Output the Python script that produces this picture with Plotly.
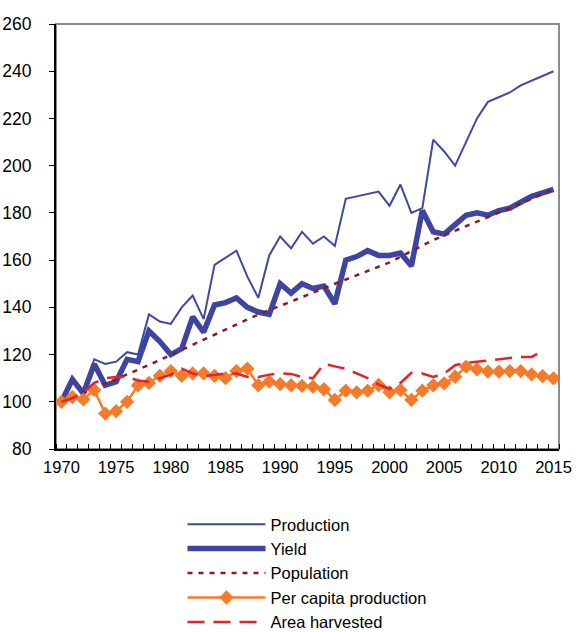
import plotly.graph_objects as go

years = list(range(1970, 2016))

production = [100, 109, 104, 118, 116, 117, 121, 120, 137, 134,
              133, 140, 145, 135, 158, 161, 164, 153, 144, 162,
              170, 165, 172, 167, 170, 166, 186, 187, 188, 189,
              183, 192, 180, 182, 211, 206, 200, 210, 220, 227,
              229, 231, 234, 236, 238, 240]

yield_ = [100, 109.5, 103.5, 116, 107, 108.5, 118, 117, 130, 125.5,
          120, 122.5, 136, 129.5, 141, 142, 144, 140, 138, 137,
          150, 146, 150, 148, 149, 141.5, 160, 161.5, 164, 162,
          162, 163, 157.5, 181, 172, 171, 175, 179, 180, 179,
          181, 182, 184.5, 187, 188.5, 190]

population = [100, 102, 104, 106, 107.8, 109.6, 111.5, 113.5, 115.6, 117.7,
              119.8, 121.9, 124, 126.2, 128.3, 130.5, 132.7, 134.9, 137, 138.9,
              140.6, 142.4, 144.3, 146.2, 148.1, 150, 151.8, 153.6, 155.4, 157.2,
              159, 161.4, 163.8, 166.2, 168.5, 170.5, 172.4, 174.3, 176.2, 178,
              180, 182, 184, 186, 188, 190]

per_capita = [100, 102, 101, 105, 95, 96, 100, 107, 108, 111,
              113, 111, 112, 112, 111, 110, 113, 114, 107, 108.5,
              107.5, 107, 106.7, 106.4, 105.3, 100.8, 104.7, 104, 104.7, 107.1,
              104, 105, 100.8, 104.7, 107, 107.8, 110.6, 114.9, 113.7, 112.8,
              112.8, 113, 113, 111.6, 110.9, 109.9]

area_harvested = [100, 101.5, 104, 108, 110, 110.5, 110.5, 109, 108.5, 110,
                  111.5, 114, 112, 111, 111.3, 112, 112, 110.5, 110.5, 111.5,
                  112, 111.8, 110.5, 110, 116, 115, 114, 112, 110, 107.3,
                  105.5, 108, 112.3, 112, 110.5, 112, 115.5, 116.5, 117, 117.5,
                  118, 118.5, 119, 119, 121.5, None]

x_tick_labels = ["1970", "1975", "1980", "1985", "1990", "1995", "2000", "2005", "2010", "2015"]
x_tick_vals = [int(v) for v in x_tick_labels]

FONT = "Liberation Sans, Arial, sans-serif"

fig = go.Figure()
fig.add_trace(go.Scatter(x=years, y=production, name="Production", mode="lines",
                         line=dict(color="#3B4BA3", width=2)))
fig.add_trace(go.Scatter(x=years, y=yield_, name="Yield", mode="lines",
                         line=dict(color="#3D45A0", width=5.5)))
fig.add_trace(go.Scatter(x=years, y=population, name="Population", mode="lines",
                         line=dict(color="#8B1A1A", width=2.5, dash="5px,6px")))
fig.add_trace(go.Scatter(x=years, y=per_capita, name="Per capita production", mode="lines+markers",
                         line=dict(color="#F47B2A", width=2.5),
                         marker=dict(symbol="diamond", size=11, color="#F47B2A")))
fig.add_trace(go.Scatter(x=years, y=area_harvested, name="Area harvested", mode="lines",
                         line=dict(color="#E3222B", width=2.5, dash="17px,9px")))

# plot-area frame (grey on top/right like the original)
fig.add_shape(type="rect", xref="paper", yref="paper", x0=0, y0=0, x1=1, y1=1,
              line=dict(color="#8C8C8C", width=2), layer="below")

fig.update_layout(
    width=576, height=632,
    margin=dict(l=56, r=17, t=24, b=183, autoexpand=False),
    paper_bgcolor="white", plot_bgcolor="white",
    font=dict(family=FONT, size=16, color="black"),
    showlegend=True,
    legend=dict(x=0.2515, y=-0.1363, xanchor="left", yanchor="top",
                font=dict(family=FONT, size=16.5, color="black"),
                itemwidth=78, tracegroupgap=0, bgcolor="rgba(0,0,0,0)"),
    xaxis=dict(range=[1969.5, 2015.5], tickvals=x_tick_vals, ticktext=x_tick_labels,
               ticks="", showgrid=False, zeroline=False, automargin=False,
               showline=True, linecolor="black", linewidth=2,
               ticklabelstandoff=2,
               tickfont=dict(family=FONT, size=16.5),
               minor=dict(ticks="inside", tick0=1969.5, dtick=1, ticklen=5,
                          tickcolor="black", tickwidth=1, showgrid=False)),
    yaxis=dict(range=[80, 260], dtick=20, tick0=80, ticks="outside", ticklen=5,
               tickcolor="black", showgrid=False, zeroline=False, automargin=False,
               showline=True, linecolor="black", linewidth=2,
               ticklabelstandoff=14,
               tickfont=dict(family=FONT, size=17.5)),
)

fig.write_html("out.html", config={"displayModeBar": False},
               post_script="document.body.style.margin='0';document.body.style.overflow='hidden';")
